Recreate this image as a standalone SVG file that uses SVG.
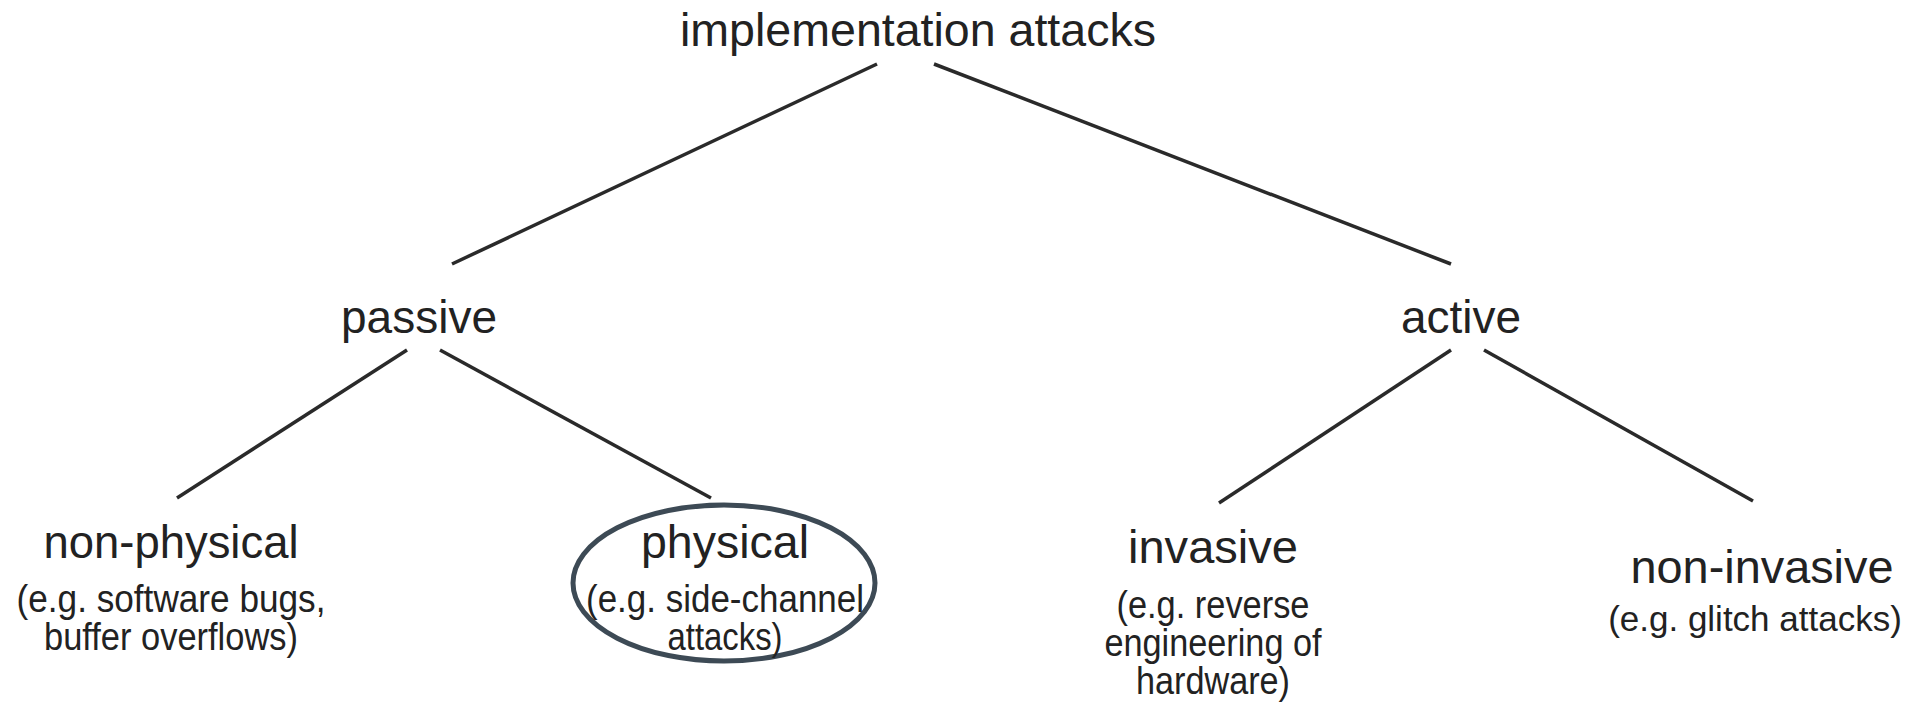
<svg xmlns="http://www.w3.org/2000/svg" width="1915" height="705" viewBox="0 0 1915 705">
<style>
text{font-family:"Liberation Sans",Arial,sans-serif;fill:#222;text-anchor:middle}
.main{font-size:47px}
.sub{font-size:38px}
.edge{stroke:#2a2a2a;stroke-width:3.5;fill:none}
</style>
<rect width="1915" height="705" fill="#fff"/>
<g id="connectors">
<line class="edge" x1="877" y1="64" x2="452" y2="264"/>
<line class="edge" x1="934" y1="64" x2="1451" y2="264"/>
<line class="edge" x1="407" y1="350" x2="177" y2="498"/>
<line class="edge" x1="440" y1="350" x2="711" y2="498"/>
<line class="edge" x1="1451" y1="350" x2="1219" y2="503"/>
<line class="edge" x1="1484" y1="350" x2="1753" y2="501"/>
</g>
<g id="root"><text class="main" x="918" y="46" textLength="476" lengthAdjust="spacingAndGlyphs">implementation attacks</text></g>
<g id="passive"><text class="main" x="419" y="333" textLength="156" lengthAdjust="spacingAndGlyphs">passive</text></g>
<g id="active"><text class="main" x="1461" y="333" textLength="120" lengthAdjust="spacingAndGlyphs">active</text></g>
<g id="non-physical">
<text class="main" x="171" y="558" textLength="255" lengthAdjust="spacingAndGlyphs">non-physical</text>
<text class="sub" x="171" y="612" textLength="309" lengthAdjust="spacingAndGlyphs">(e.g. software bugs,</text>
<text class="sub" x="171" y="650" textLength="254" lengthAdjust="spacingAndGlyphs">buffer overflows)</text>
</g>
<g id="physical">
<ellipse cx="724" cy="583" rx="151" ry="78" fill="none" stroke="#3d4a55" stroke-width="5"/>
<text class="main" x="725" y="558" textLength="168" lengthAdjust="spacingAndGlyphs">physical</text>
<text class="sub" x="725" y="612" textLength="278" lengthAdjust="spacingAndGlyphs">(e.g. side-channel</text>
<text class="sub" x="725" y="650" textLength="115" lengthAdjust="spacingAndGlyphs">attacks)</text>
</g>
<g id="invasive">
<text class="main" x="1213" y="563" textLength="170" lengthAdjust="spacingAndGlyphs">invasive</text>
<text class="sub" x="1213" y="618" textLength="193" lengthAdjust="spacingAndGlyphs">(e.g. reverse</text>
<text class="sub" x="1213" y="656" textLength="217" lengthAdjust="spacingAndGlyphs">engineering of</text>
<text class="sub" x="1213" y="694" textLength="154" lengthAdjust="spacingAndGlyphs">hardware)</text>
</g>
<g id="non-invasive">
<text class="main" x="1762" y="583" textLength="263" lengthAdjust="spacingAndGlyphs">non-invasive</text>
<text x="1755" y="631" font-size="35">(e.g. glitch attacks)</text>
</g>
</svg>
